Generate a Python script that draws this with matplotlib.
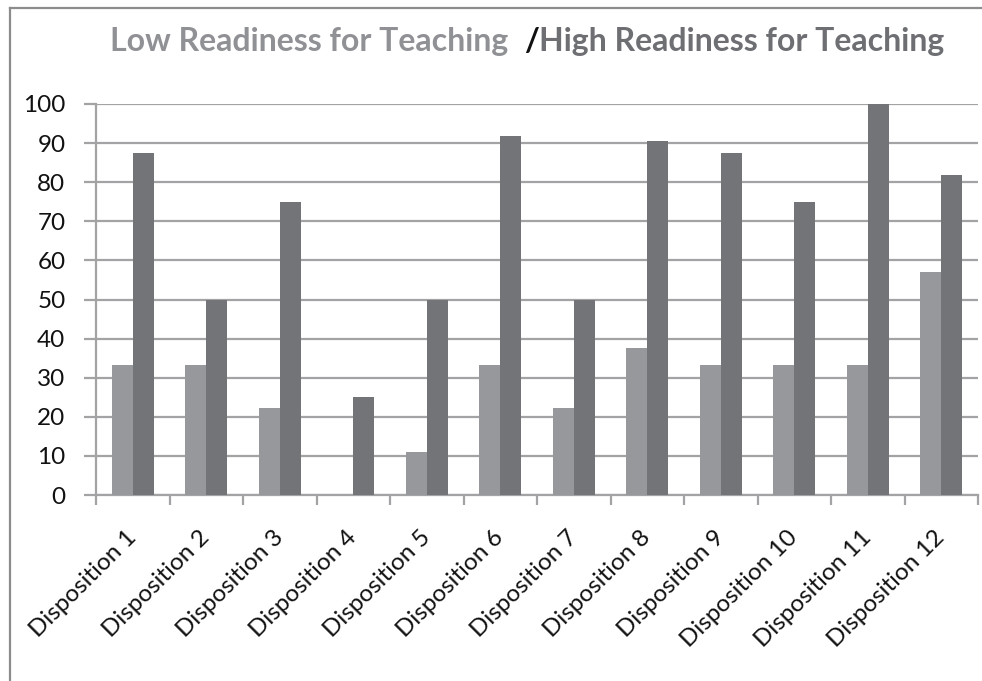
import matplotlib
matplotlib.use("Agg")
import matplotlib.pyplot as plt
import numpy as np
from matplotlib.lines import Line2D

categories = [f"Disposition {i}" for i in range(1, 13)]
low_readiness = [33.3, 33.3, 22.2, 0, 11.1, 33.3, 22.2, 37.5, 33.3, 33.3, 33.3, 57.1]
high_readiness = [87.5, 50, 75, 25, 50, 91.7, 50, 90.6, 87.5, 75, 100, 81.8]
y_ticks = [0, 10, 20, 30, 40, 50, 60, 70, 80, 90, 100]

FONT = "Lato"
LOW_C = "#97989c"
HIGH_C = "#737478"
GRID_C = "#a3a3a6"

fig = plt.figure(figsize=(9.82, 6.81), dpi=100)
ax = fig.add_axes([96 / 982, 1 - 495 / 681, 882 / 982, 391 / 681])

x = np.arange(len(categories))
w = 0.285
ax.bar(x - w / 2, low_readiness, width=w, color=LOW_C, zorder=3)
ax.bar(x + w / 2, high_readiness, width=w, color=HIGH_C, zorder=3)

ax.set_xlim(-0.5, len(categories) - 0.5)
ax.set_ylim(0, 100)
ax.set_yticks(y_ticks)
ax.set_yticklabels([str(v) for v in y_ticks], fontfamily=FONT, fontsize=17.5, color="#111111")
ax.yaxis.grid(True, color=GRID_C, linewidth=1.6, zorder=0)
ax.tick_params(axis="y", length=9, width=1.6, color=GRID_C, pad=13)

# category boundary ticks with labels centred under each pair of bars
ax.set_xticks(np.arange(-0.5, len(categories), 1.0))
ax.set_xticklabels([])
ax.set_xticks(x, minor=True)
ax.set_xticklabels(categories, minor=True, rotation=45, ha="right", va="center",
                   rotation_mode="anchor", fontfamily=FONT, fontsize=17.5, color="#111111")
ax.tick_params(axis="x", which="major", length=7, width=1.6, color=GRID_C)
ax.tick_params(axis="x", which="minor", length=0, pad=28)

for s in ["top", "right"]:
    ax.spines[s].set_visible(False)
for s in ["left", "bottom"]:
    ax.spines[s].set_color(GRID_C)
    ax.spines[s].set_linewidth(1.6)

# outer frame (top and left edges)
fig.add_artist(Line2D([10 / 982, 10 / 982], [0, 1 - 8 / 681], transform=fig.transFigure,
                      color="#8c8c8c", linewidth=1.6))
fig.add_artist(Line2D([10 / 982, 1], [1 - 8 / 681, 1 - 8 / 681], transform=fig.transFigure,
                      color="#8c8c8c", linewidth=1.6))

# two-tone title
TS = 23
t1 = fig.text(110 / 982, 1 - 51 / 681, "Low Readiness for Teaching  ", fontfamily=FONT,
              fontweight="bold", fontsize=TS, color="#909195", ha="left", va="baseline")
t2 = fig.text(0, 0, "/", fontfamily=FONT, fontweight="bold", fontsize=TS, color="#111111",
              ha="left", va="baseline")
t3 = fig.text(0, 0, "High Readiness for Teaching", fontfamily=FONT, fontweight="bold",
              fontsize=TS, color="#6e6f73", ha="left", va="baseline")
fig.canvas.draw()
r = fig.canvas.get_renderer()
bb1 = t1.get_window_extent(r)
t2.set_position((bb1.x1 / fig.bbox.width, 1 - 51 / 681))
bb2 = t2.get_window_extent(r)
t3.set_position((bb2.x1 / fig.bbox.width, 1 - 51 / 681))

fig.savefig("out.png", dpi=100)
